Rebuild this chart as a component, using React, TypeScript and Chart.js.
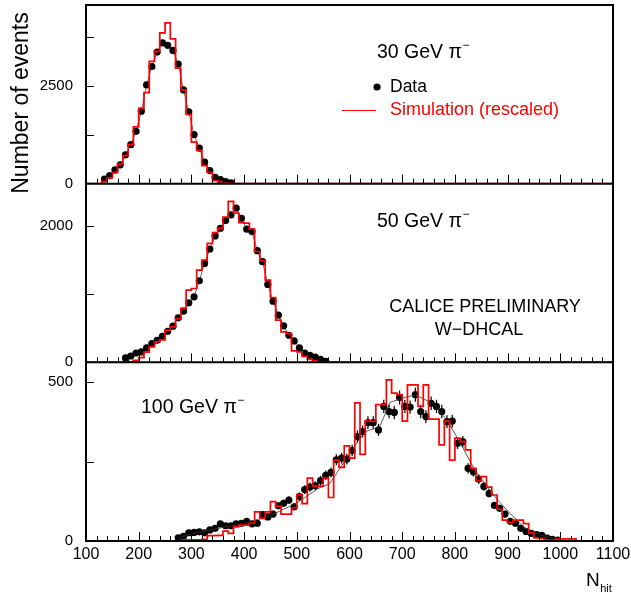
import React, { useEffect, useRef } from "react";
import { Chart, registerables } from "chart.js";

Chart.register(...registerables);

const FONT = '"Liberation Sans", Arial, Helvetica, sans-serif';

// ---------- axis ----------
const X_MIN = 100;
const X_MAX = 1100;
const BIN_WIDTH = 10;
const X_TICKS = [100, 200, 300, 400, 500, 600, 700, 800, 900, 1000, 1100];

// ---------- 30 GeV ----------
const E30_FIRST_EDGE = 130;
const E30_DATA = [120, 206, 352, 481, 739, 997, 1340, 1855, 2525, 2997, 3367, 3600, 3538, 3409, 3058, 2397, 1838, 1254, 910, 549, 335, 163, 103, 52, 20];
const E30_SIM = [60, 150, 280, 500, 717, 997, 1451, 1924, 2328, 3127, 3384, 3857, 4115, 3703, 2955, 2397, 1770, 1065, 850, 464, 292, 77, 52, 17, 10];

// ---------- 50 GeV ----------
const E50_FIRST_EDGE = 170;
const E50_DATA = [64, 93, 137, 152, 211, 275, 324, 382, 456, 530, 652, 750, 873, 961, 1196, 1451, 1662, 1853, 1966, 2079, 2162, 2260, 2113, 1952, 1917, 1638, 1476, 1142, 897, 691, 535, 397, 314, 211, 137, 103, 78, 44, 15];
const E50_SIM = [5, 8, 30, 70, 150, 226, 299, 330, 471, 520, 642, 790, 1059, 1083, 1353, 1500, 1745, 1903, 1966, 2128, 2359, 2187, 2050, 2040, 1952, 1625, 1486, 1206, 951, 618, 446, 422, 167, 152, 88, 44, 20, 5, 3, 0];

// ---------- 100 GeV ----------
const E100_FIRST_EDGE = 270;
const E100_DATA = [10, 15, 26, 27, 29, 26, 35, 40, 54, 48, 48, 54, 56, 62, 54, 56, 83, 76, 85, 111, 119, 129, 108, 140, 162, 170, 174, 190, 207, 216, 256, 261, 258, 285, 329, 345, 373, 373, 350, 424, 408, 405, 452, 424, 422, 461, 408, 392, 434, 424, 408, 376, 378, 308, 313, 229, 218, 195, 172, 150, 112, 103, 85, 62, 56, 40, 30, 24, 20, 18, 9, 5, 3];
const E100_ERR = [4, 5, 6, 6, 6, 6, 7, 7, 8, 8, 8, 8, 8, 9, 8, 8, 10, 10, 10, 11, 12, 12, 11, 13, 14, 14, 14, 15, 15, 16, 17, 17, 17, 18, 19, 19, 20, 20, 19, 21, 21, 21, 22, 21, 21, 22, 21, 20, 21, 21, 21, 20, 20, 18, 18, 16, 15, 15, 14, 13, 11, 11, 10, 8, 8, 7, 6, 5, 5, 5, 4, 3, 2];
const E100_SIM = [0, 3, 4, 4, 4, 5, 17, 17, 18, 31, 24, 45, 50, 50, 56, 92, 71, 92, 124, 110, 85, 85, 104, 146, 118, 198, 173, 173, 198, 137, 255, 232, 300, 261, 435, 273, 379, 377, 430, 430, 508, 466, 461, 378, 492, 492, 424, 492, 384, 384, 303, 378, 255, 324, 313, 287, 229, 190, 203, 170, 145, 100, 66, 58, 66, 66, 55, 25, 10, 8, 4, 3, 6, 7, 7, 7];
const E100_FIT_X = [275, 300, 350, 400, 450, 500, 540, 562, 584, 610, 630, 657, 677, 700, 725, 758, 787, 812, 838, 870, 900, 930, 960, 1000];
const E100_FIT_Y = [10, 22, 40, 55, 80, 120, 165, 180, 234, 300, 345, 359, 437, 450, 460, 434, 376, 303, 223, 150, 95, 45, 20, 3];

// ---------- y axes ----------
const Y_MAX = [4570, 2620, 563];
const Y_TICKS = [[0, 1250, 2500, 3750], [0, 1000, 2000], [0, 250, 500]];
const Y_LABELS = [[0, 2500], [0, 2000], [0, 500]];

const RED = "#ff0000";

function histPoints(firstEdge: number, vals: number[]) {
  const pts: { x: number; y: number }[] = [{ x: X_MIN, y: 0 }];
  vals.forEach((v, i) => pts.push({ x: firstEdge + i * BIN_WIDTH, y: v }));
  pts.push({ x: firstEdge + vals.length * BIN_WIDTH, y: 0 });
  pts.push({ x: X_MAX, y: 0 });
  return pts;
}
function centerPoints(firstEdge: number, vals: number[]) {
  return vals.map((v, i) => ({ x: firstEdge + BIN_WIDTH / 2 + i * BIN_WIDTH, y: v }));
}

function simDs(firstEdge: number, vals: number[], axis: string) {
  return {
    data: histPoints(firstEdge, vals),
    yAxisID: axis,
    borderColor: RED,
    borderWidth: 1.7,
    pointRadius: 0,
    stepped: "before" as const,
    fill: false,
    showLine: true,
  };
}
function dataDs(firstEdge: number, vals: number[], axis: string, line: boolean) {
  return {
    data: centerPoints(firstEdge, vals),
    yAxisID: axis,
    showLine: line,
    borderColor: "#444",
    borderWidth: 0.8,
    pointRadius: 3.6,
    pointBackgroundColor: "#000",
    pointBorderColor: "#000",
    pointBorderWidth: 0,
    fill: false,
  };
}

function yScale(idx: number) {
  return {
    type: "linear" as const,
    position: "left" as const,
    stack: "panels",
    stackWeight: 1,
    min: 0,
    max: Y_MAX[idx],
    grid: { display: false, drawTicks: false },
    border: { display: false },
    ticks: {
      autoSkip: false,
      padding: 13,
      color: "#000",
      font: { family: FONT, size: 15 },
      callback: (v: any) => (Y_LABELS[idx].includes(Number(v)) ? String(v) : ""),
    },
    afterBuildTicks: (s: any) => {
      s.ticks = Y_TICKS[idx].map((v) => ({ value: v }));
    },
    afterFit: (s: any) => {
      s.width = 86;
      s.paddingTop = 0;
      s.paddingBottom = 0;
    },
  };
}

function drawText(ctx: CanvasRenderingContext2D, s: string, x: number, y: number, size: number, color: string, align: CanvasTextAlign = "left") {
  ctx.font = `${size}px ${FONT}`;
  ctx.fillStyle = color;
  ctx.textAlign = align;
  ctx.textBaseline = "middle";
  ctx.fillText(s, x, y);
  return ctx.measureText(s).width;
}
function drawPion(ctx: CanvasRenderingContext2D, s: string, x: number, y: number) {
  const w = drawText(ctx, s, x, y, 19.5, "#000");
  drawText(ctx, "\u2212", x + w + 0.5, y - 7, 12, "#000");
}

const decor = {
  id: "decor",
  beforeDatasetsDraw(chart: any) {
    const ctx = chart.ctx;
    const xs = chart.scales.x;
    const ys = chart.scales.y3;
    ctx.save();
    ctx.strokeStyle = "#000";
    ctx.lineWidth = 1.2;
    E100_DATA.forEach((v, i) => {
      const cx = E100_FIRST_EDGE + BIN_WIDTH / 2 + i * BIN_WIDTH;
      const px = xs.getPixelForValue(cx);
      ctx.beginPath();
      ctx.moveTo(px, ys.getPixelForValue(v - E100_ERR[i]));
      ctx.lineTo(px, ys.getPixelForValue(v + E100_ERR[i]));
      ctx.stroke();
    });
    ctx.restore();
  },
  afterDatasetsDraw(chart: any) {
    const ctx = chart.ctx;
    const a = chart.chartArea;
    const xs = chart.scales.x;
    ctx.save();
    ctx.strokeStyle = "#000";
    ["y1", "y2", "y3"].forEach((k, idx) => {
      const sc = chart.scales[k];
      ctx.lineWidth = 1;
      for (let v = X_MIN + 20; v < X_MAX; v += 20) {
        const px = Math.round(xs.getPixelForValue(v)) + 0.5;
        const len = v % 100 === 0 ? 9 : 5;
        ctx.beginPath();
        ctx.moveTo(px, sc.bottom);
        ctx.lineTo(px, sc.bottom - len);
        ctx.stroke();
      }
      Y_TICKS[idx].forEach((v) => {
        if (v <= 0) return;
        const py = Math.round(sc.getPixelForValue(v)) + 0.5;
        ctx.beginPath();
        ctx.moveTo(a.left, py);
        ctx.lineTo(a.left + 8, py);
        ctx.stroke();
      });
      if (k !== "y3") {
        ctx.lineWidth = 2;
        ctx.beginPath();
        ctx.moveTo(a.left, sc.bottom);
        ctx.lineTo(a.right, sc.bottom);
        ctx.stroke();
      }
    });
    ctx.lineWidth = 2;
    ctx.strokeRect(a.left, a.top, a.right - a.left, a.bottom - a.top);
    ctx.restore();
  },
  afterDraw(chart: any) {
    const ctx = chart.ctx;
    ctx.save();
    ctx.save();
    ctx.translate(22, 103);
    ctx.rotate(-Math.PI / 2);
    drawText(ctx, "Number of events", 0, 0, 23, "#000", "center");
    ctx.restore();

    drawPion(ctx, "30 GeV \u03c0", 377, 53);
    drawPion(ctx, "50 GeV \u03c0", 377, 222);
    drawPion(ctx, "100 GeV \u03c0", 141, 408);

    ctx.fillStyle = "#000";
    ctx.beginPath();
    ctx.arc(377, 87, 3.6, 0, Math.PI * 2);
    ctx.fill();
    drawText(ctx, "Data", 390, 87, 17.5, "#000");
    ctx.strokeStyle = RED;
    ctx.lineWidth = 1;
    ctx.beginPath();
    ctx.moveTo(342, 110.5);
    ctx.lineTo(376, 110.5);
    ctx.stroke();
    drawText(ctx, "Simulation (rescaled)", 390, 110, 18, RED);

    drawText(ctx, "CALICE PRELIMINARY", 485, 307, 18, "#000", "center");
    drawText(ctx, "W\u2212DHCAL", 479, 330, 18, "#000", "center");

    const w = drawText(ctx, "N", 586, 581, 19, "#000");
    drawText(ctx, "hit", 586 + w + 0.5, 589, 11, "#000");
    ctx.restore();
  },
};

export default function App() {
  const ref = useRef<HTMLCanvasElement | null>(null);
  useEffect(() => {
    if (!ref.current) return;
    const fit100 = E100_FIT_X.map((x, i) => ({ x, y: E100_FIT_Y[i] }));
    const chart = new Chart(ref.current, {
      type: "line",
      data: {
        datasets: [
          simDs(E30_FIRST_EDGE, E30_SIM, "y1") as any,
          simDs(E50_FIRST_EDGE, E50_SIM, "y2") as any,
          simDs(E100_FIRST_EDGE, E100_SIM, "y3") as any,
          {
            data: fit100,
            yAxisID: "y3",
            borderColor: "#333",
            borderWidth: 0.8,
            pointRadius: 0,
            fill: false,
            showLine: true,
          } as any,
          dataDs(E30_FIRST_EDGE, E30_DATA, "y1", true) as any,
          dataDs(E50_FIRST_EDGE, E50_DATA, "y2", true) as any,
          dataDs(E100_FIRST_EDGE, E100_DATA, "y3", false) as any,
        ],
      },
      options: {
        animation: false,
        responsive: false,
        events: [],
        layout: { padding: { top: 5, right: 18, left: 0, bottom: 0 } },
        plugins: { legend: { display: false }, tooltip: { enabled: false } },
        scales: {
          x: {
            type: "linear",
            min: X_MIN,
            max: X_MAX,
            grid: { display: false, drawTicks: false },
            border: { display: false },
            ticks: {
              autoSkip: false,
              maxRotation: 0,
              padding: 4,
              color: "#000",
              font: { family: FONT, size: 16 },
              callback: (v: any) => String(v),
            },
            afterBuildTicks: (s: any) => {
              s.ticks = X_TICKS.map((v) => ({ value: v }));
            },
            afterFit: (s: any) => {
              s.height = 58;
              s.paddingLeft = 0;
              s.paddingRight = 0;
            },
          },
          y3: yScale(2),
          y2: yScale(1),
          y1: yScale(0),
        } as any,
      },
      plugins: [decor],
    });
    return () => chart.destroy();
  }, []);
  return (
    <div style={{ position: "absolute", left: 0, top: 0, width: 631, height: 599, background: "#fff" }}>
      <canvas ref={ref} width={631} height={599} />
    </div>
  );
}
